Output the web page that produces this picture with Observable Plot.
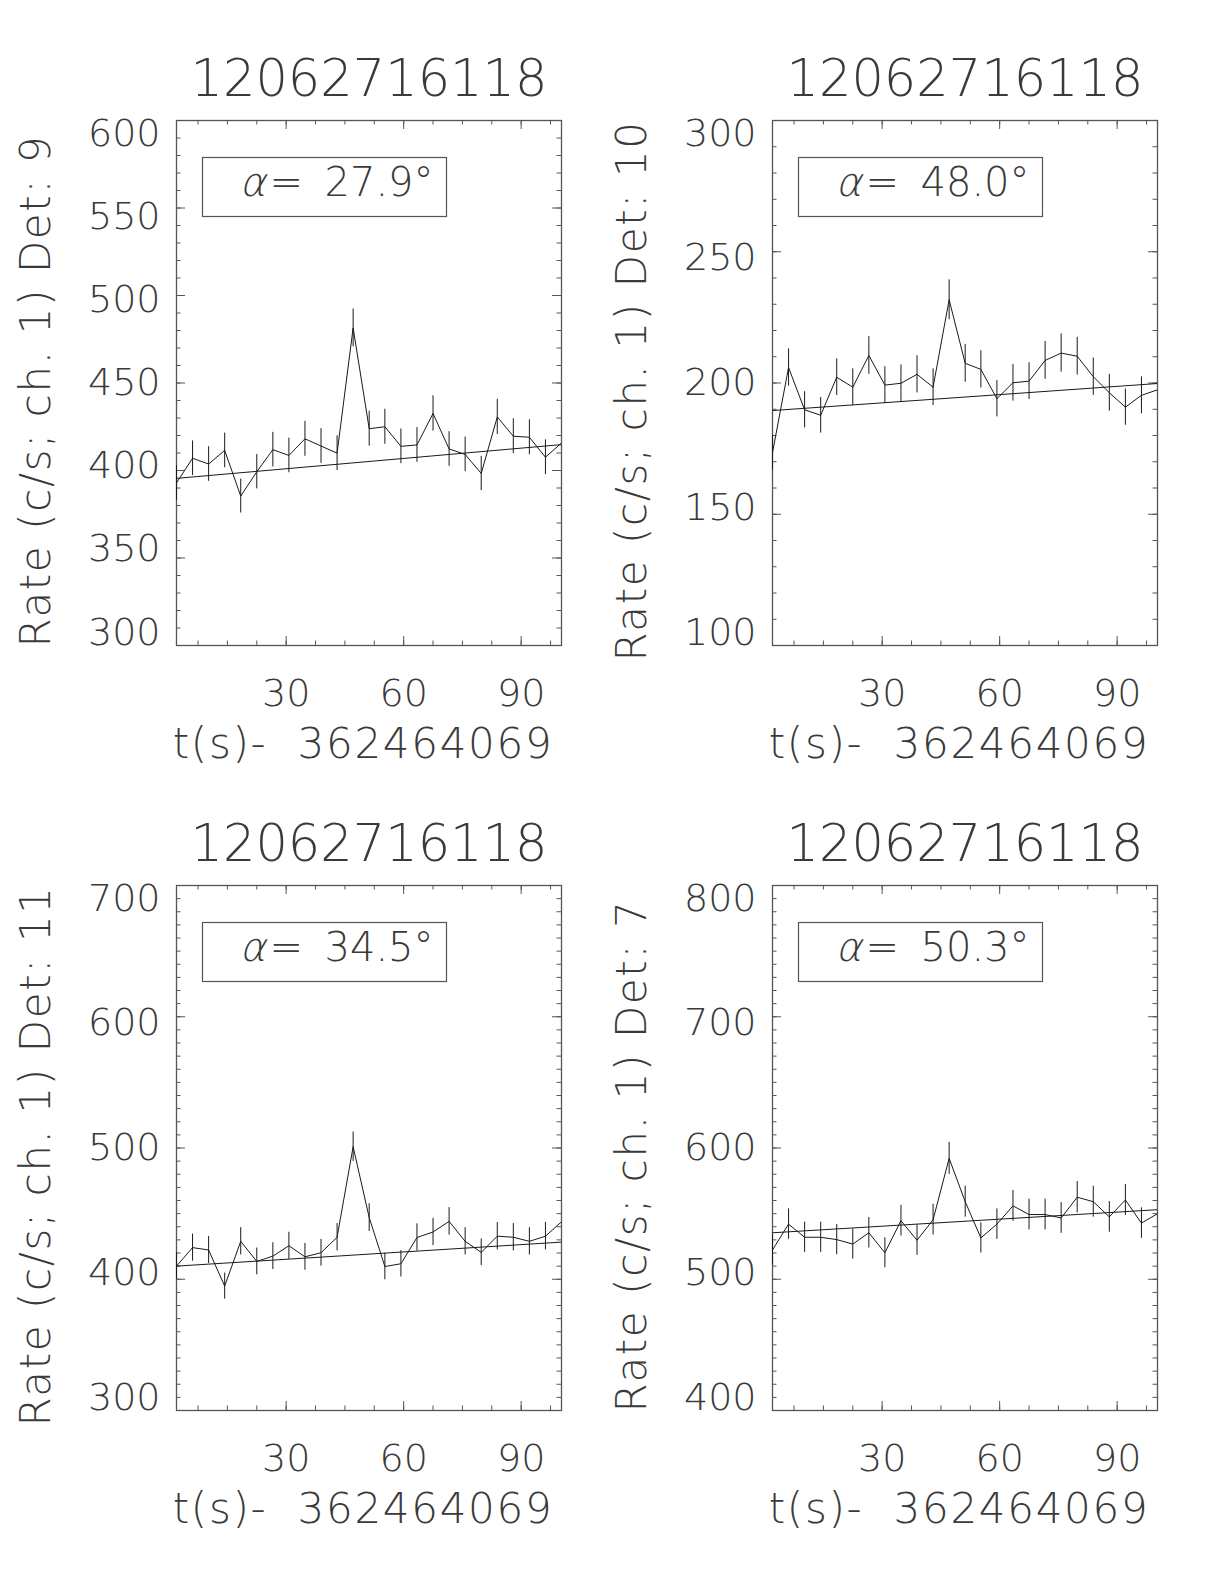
<!DOCTYPE html>
<html><head><meta charset="utf-8">
<script src="https://cdn.jsdelivr.net/npm/d3@7"></script>
<script src="https://cdn.jsdelivr.net/npm/@observablehq/plot@0.6"></script>
<style>
body{margin:0;background:#fff;}
#page{position:relative;width:1224px;height:1584px;background:#fff;overflow:hidden;}
#page svg{position:absolute;}
</style></head><body><div id="page"></div>
<script>
// ---- data ----
const trigger = "12062716118";
const xTitle = "t(s)-  362464069";
const xDomain = [2.0, 100.3];
const time = [2.0, 6.1, 10.2, 14.3, 18.4, 22.5, 26.6, 30.7, 34.8, 38.9, 43.0, 47.1, 51.2, 55.2, 59.3, 63.4, 67.5, 71.6, 75.7, 79.8, 83.9, 88.0, 92.1, 96.2, 100.3];
const xTickLabels = [30, 60, 90];
const xMinorTicks = [7.5, 15, 22.5, 30, 37.5, 45, 52.5, 60, 67.5, 75, 82.5, 90, 97.5];

const detectors = [9, 10, 11, 7];
const alphas = ["27.9", "48.0", "34.5", "50.3"];

const det9Rate = [392.9, 407.0, 403.7, 411.5, 385.4, 399.3, 411.9, 408.6, 418.1, 414.0, 409.9, 481.5, 423.9, 425.0, 413.8, 414.6, 432.6, 412.3, 409.2, 398.3, 430.6, 419.6, 419.0, 407.6, 415.7];
const det9Err = [9.8, 9.9, 9.9, 9.9, 9.7, 9.8, 9.9, 9.9, 10.0, 9.9, 9.9, 10.8, 10.0, 10.0, 9.9, 9.9, 10.1, 9.9, 9.9, 9.8, 10.1, 10.0, 10.0, 9.9, 9.9];
const det9Fit = [395.5, 414.8];

const det10Rate = [173.5, 205.9, 189.8, 187.7, 202.2, 198.4, 210.5, 199.2, 199.9, 203.3, 198.4, 231.7, 207.5, 205.2, 194.0, 200.1, 200.7, 208.6, 211.4, 210.2, 202.4, 196.3, 190.8, 195.3, 197.4];
const det10Err = [6.6, 7.1, 6.9, 6.8, 7.0, 7.0, 7.2, 7.0, 7.0, 7.1, 7.0, 7.6, 7.2, 7.1, 6.9, 7.0, 7.0, 7.2, 7.3, 7.2, 7.1, 7.0, 6.9, 7.0, 7.0];
const det10Fit = [189.5, 199.8];

const det11Rate = [410.0, 424.1, 422.3, 394.8, 428.9, 413.6, 417.6, 425.5, 417.1, 420.2, 432.0, 501.0, 447.0, 409.7, 411.8, 431.8, 436.0, 444.1, 428.9, 420.5, 432.8, 432.0, 428.9, 432.8, 443.8];
const det11Err = [10.1, 10.3, 10.3, 9.9, 10.4, 10.2, 10.2, 10.3, 10.2, 10.2, 10.4, 11.2, 10.6, 10.1, 10.1, 10.4, 10.4, 10.5, 10.4, 10.2, 10.4, 10.4, 10.4, 10.4, 10.5];
const det11Fit = [410.0, 428.3];

const det7Rate = [522.3, 542.0, 532.0, 532.0, 530.2, 526.8, 535.4, 520.2, 544.6, 529.7, 545.4, 592.1, 559.1, 531.5, 542.0, 555.9, 549.3, 549.3, 546.7, 562.5, 559.1, 547.5, 560.4, 542.8, 549.9];
const det7Err = [11.4, 11.6, 11.5, 11.5, 11.5, 11.5, 11.6, 11.4, 11.7, 11.5, 11.7, 12.2, 11.8, 11.5, 11.6, 11.8, 11.7, 11.7, 11.7, 11.9, 11.8, 11.7, 11.8, 11.6, 11.7];
const det7Fit = [535.4, 553.0];

const yDomains = [[300, 600], [100, 300], [300, 700], [400, 800]];
const yTickLabels = [
  [300, 350, 400, 450, 500, 550, 600],
  [100, 150, 200, 250, 300],
  [300, 400, 500, 600, 700],
  [400, 500, 600, 700, 800]
];
const yMinorStep = [10, 10, 10, 10];

const panels = [
  {det: detectors[0], alpha: alphas[0], rate: det9Rate, err: det9Err, fit: det9Fit, yDomain: yDomains[0], yTicks: yTickLabels[0], yMinor: yMinorStep[0], left: 0, top: 0},
  {det: detectors[1], alpha: alphas[1], rate: det10Rate, err: det10Err, fit: det10Fit, yDomain: yDomains[1], yTicks: yTickLabels[1], yMinor: yMinorStep[1], left: 596, top: 0},
  {det: detectors[2], alpha: alphas[2], rate: det11Rate, err: det11Err, fit: det11Fit, yDomain: yDomains[2], yTicks: yTickLabels[2], yMinor: yMinorStep[2], left: 0, top: 765},
  {det: detectors[3], alpha: alphas[3], rate: det7Rate, err: det7Err, fit: det7Fit, yDomain: yDomains[3], yTicks: yTickLabels[3], yMinor: yMinorStep[3], left: 596, top: 765}
];

// ---- drawing ----
const W = 612, H = 792, mL = 176, mR = 51, mT = 120, mB = 147;
const fw = W - mL - mR, fh = H - mT - mB;
const ink = "#3a3a3a", frameInk = "#555", lineInk = "#1a1a1a";
const font = "'DejaVu Sans', sans-serif";
const minorLen = 4.5, majorLen = 9;

function panel(p) {
  const rows = time.map((t, i) => ({t, r: p.rate[i], e: p.err[i]}));
  const fit = [{t: time[0], r: p.fit[0]}, {t: time[time.length - 1], r: p.fit[1]}];
  const [y0, y1] = p.yDomain;
  const mid = (y0 + y1) / 2;
  const minorY = d3.range(y0, y1 + 1e-9, p.yMinor);
  const yTitle = `Rate (c/s; ch. 1) Det: ${p.det}`;
  const txt = {fill: ink, fontFamily: font, fontWeight: 200, lineAnchor: "middle"};
  const svg = Plot.plot({
    width: W, height: H,
    marginLeft: mL, marginRight: mR, marginTop: mT, marginBottom: mB,
    x: {domain: xDomain, axis: null},
    y: {domain: p.yDomain, axis: null},
    style: {background: "white", overflow: "visible"},
    marks: [
      // ticks (inward, all four sides)
      Plot.ruleY(minorY, {y: d => d, insetRight: fw - minorLen, stroke: frameInk}),
      Plot.ruleY(minorY, {y: d => d, insetLeft: fw - minorLen, stroke: frameInk}),
      Plot.ruleY(p.yTicks, {y: d => d, insetRight: fw - majorLen, stroke: frameInk}),
      Plot.ruleY(p.yTicks, {y: d => d, insetLeft: fw - majorLen, stroke: frameInk}),
      Plot.ruleX(xMinorTicks, {x: d => d, insetTop: fh - minorLen, stroke: frameInk}),
      Plot.ruleX(xMinorTicks, {x: d => d, insetBottom: fh - minorLen, stroke: frameInk}),
      Plot.ruleX(xTickLabels, {x: d => d, insetTop: fh - majorLen, stroke: frameInk}),
      Plot.ruleX(xTickLabels, {x: d => d, insetBottom: fh - majorLen, stroke: frameInk}),
      Plot.frame({stroke: frameInk, strokeWidth: 1.3}),
      // data
      Plot.ruleX(rows, {x: "t", y1: d => d.r - d.e, y2: d => d.r + d.e, stroke: lineInk, strokeWidth: 1, clip: true}),
      Plot.line(rows, {x: "t", y: "r", stroke: lineInk, strokeWidth: 1, clip: true}),
      Plot.line(fit, {x: "t", y: "r", stroke: lineInk, strokeWidth: 1, clip: true}),
      // legend box
      Plot.frame({insetLeft: 26, insetTop: 37, insetRight: fw - 270, insetBottom: fh - 96, stroke: frameInk, strokeWidth: 1.2}),
      Plot.text(["α"], {frameAnchor: "top-left", dx: 66, dy: 63, textAnchor: "start", fontSize: 40, ...txt}),
      Plot.text(["="], {frameAnchor: "top-left", dx: 93, dy: 63, textAnchor: "start", fontSize: 40, ...txt}),
      Plot.text([p.alpha + "°"], {frameAnchor: "top-left", dx: 148, dy: 63, textAnchor: "start", fontSize: 40, ...txt}),
      // y tick labels
      Plot.text(p.yTicks, {y: d => mid + (d - mid) * 0.95, frameAnchor: "left", dx: -16, textAnchor: "end", fontSize: 38, ...txt}),
      // x tick labels
      Plot.text(xTickLabels, {x: d => d, frameAnchor: "bottom", dy: 48, fontSize: 38, ...txt}),
      // titles
      Plot.text([trigger], {frameAnchor: "top", dy: -41, fontSize: 51, ...txt}),
      Plot.text([xTitle], {frameAnchor: "bottom", dx: -6, dy: 99, fontSize: 42, ...txt}),
      Plot.text([yTitle], {frameAnchor: "left", dx: -140, dy: 8, rotate: -90, textAnchor: "middle", fontSize: 42, ...txt})
    ]
  });
  svg.querySelectorAll("text").forEach(t => {
    const s = t.textContent;
    if (s === xTitle) { t.style.letterSpacing = "1.7px"; t.style.whiteSpace = "pre"; }
    else if (s === yTitle) { t.style.letterSpacing = "1.6px"; t.style.whiteSpace = "pre"; }
    else if (s === "α") {
      // slant the thin alpha like the reference's italic glyph
      const tr = t.getAttribute("transform") || "";
      t.setAttribute("transform", `${tr} skewX(-14)`);
    }
  });
  svg.style.left = p.left + "px";
  svg.style.top = p.top + "px";
  return svg;
}

const page = document.getElementById("page");
for (const p of panels) page.appendChild(panel(p));
</script>
</body></html>
